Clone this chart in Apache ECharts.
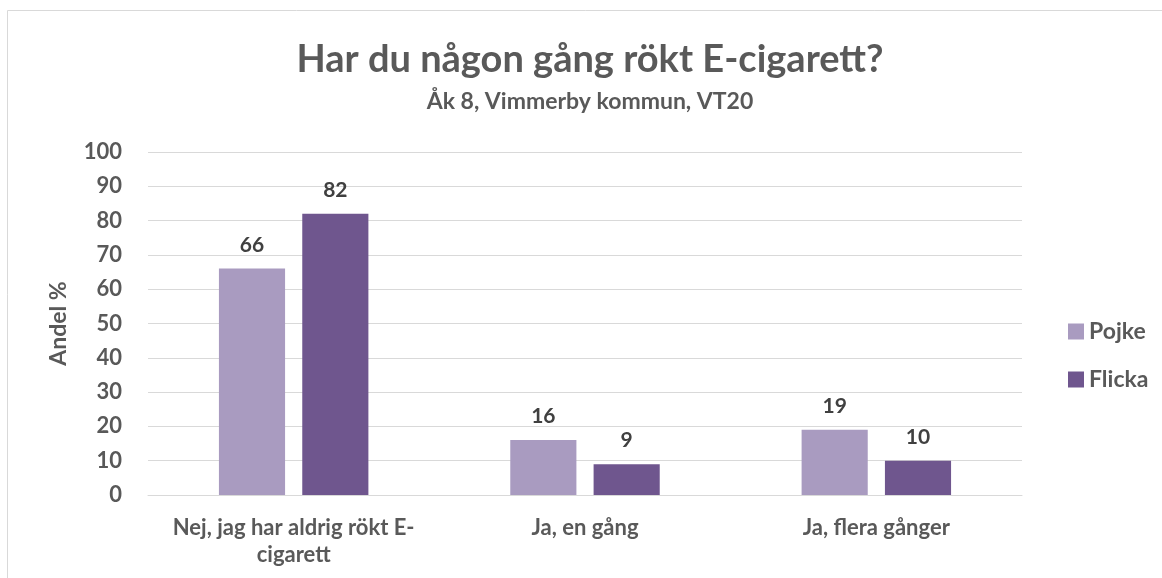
<!DOCTYPE html>
<html>
<head>
<meta charset="utf-8">
<script src="https://cdn.jsdelivr.net/npm/echarts@6/dist/echarts.min.js"></script>
<style>
  html, body { margin: 0; padding: 0; background: #fff; }
  #chart { width: 1162px; height: 578px; }
</style>
</head>
<body>
<div id="chart"></div>
<script>
  // data
  var categories = ['Nej, jag har aldrig rökt E-\ncigarett', 'Ja, en gång', 'Ja, flera gånger'];
  var pojke = [66, 16, 19];
  var flicka = [82, 9, 10];
  var yTicks = { min: 0, max: 100, interval: 10 };

  var font = 'Lato, "Open Sans", sans-serif';
  var grey = '#595959';

  var mychart = echarts.init(document.getElementById('chart'));
  var option = {
    textStyle: { fontFamily: font },
    graphic: [{
      type: 'rect',
      shape: { x: 7.5, y: 10.5, width: 1160, height: 580 },
      style: { fill: 'none', stroke: '#d9d9d9', lineWidth: 1 }
    }],
    title: {
      text: 'Har du någon gång rökt E-cigarett?',
      subtext: 'Åk 8, Vimmerby kommun, VT20',
      left: 585, textAlign: 'center', top: 36,
      itemGap: 11,
      textStyle: { fontFamily: font, fontSize: 38, fontWeight: 'bold', color: grey },
      subtextStyle: { fontFamily: font, fontSize: 23, fontWeight: 'bold', color: grey }
    },
    legend: {
      orient: 'vertical',
      left: 1063, top: 315,
      itemWidth: 16, itemHeight: 16, itemGap: 25,
      icon: 'rect',
      textStyle: { fontFamily: font, fontSize: 23, fontWeight: 'bold', color: grey },
      data: ['Pojke', 'Flicka']
    },
    grid: { left: 148, right: 140, top: 152, bottom: 83, containLabel: false },
    xAxis: {
      type: 'category',
      data: categories,
      axisLine: { lineStyle: { color: '#d9d9d9', width: 1 } },
      axisTick: { show: false },
      axisLabel: { fontFamily: font, fontSize: 22, fontWeight: 'bold', color: grey, margin: 19, lineHeight: 27, interval: 0 }
    },
    yAxis: {
      type: 'value',
      min: yTicks.min, max: yTicks.max, interval: yTicks.interval,
      name: 'Andel %',
      nameLocation: 'middle',
      nameGap: 78,
      nameTextStyle: { fontFamily: font, fontSize: 23, fontWeight: 'bold', color: grey },
      axisLine: { show: false },
      axisTick: { show: false },
      splitLine: { lineStyle: { color: '#d9d9d9', width: 1 } },
      axisLabel: { fontFamily: font, fontSize: 22, fontWeight: 'bold', color: grey, margin: 26 }
    },
    series: [
      {
        name: 'Pojke', type: 'bar', data: pojke,
        barWidth: '22.7%', barGap: '26%',
        itemStyle: { color: '#a99bc0' },
        label: { show: true, position: 'top', distance: 13, fontFamily: font, fontSize: 21, fontWeight: 'bold', color: '#404040' }
      },
      {
        name: 'Flicka', type: 'bar', data: flicka,
        barWidth: '22.7%', barGap: '26%',
        itemStyle: { color: '#6f568e' },
        label: { show: true, position: 'top', distance: 13, fontFamily: font, fontSize: 21, fontWeight: 'bold', color: '#404040' }
      }
    ]
  };
  mychart.setOption(option);
</script>
</body>
</html>
